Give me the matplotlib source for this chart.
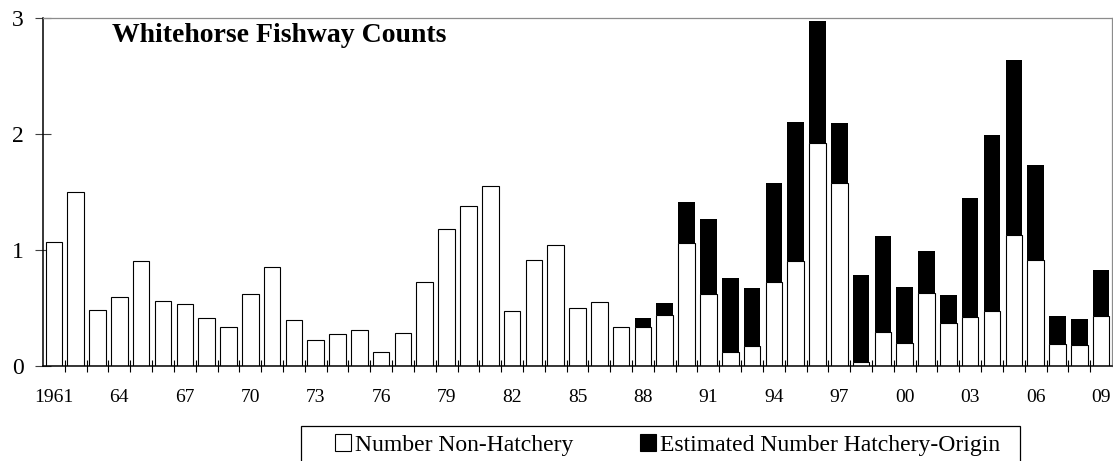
import numpy as np
import matplotlib
matplotlib.use("Agg")
import matplotlib.pyplot as plt
from matplotlib.patches import Patch, Rectangle

plt.rcParams['font.family'] = ['Liberation Serif', 'DejaVu Serif']

# Fishway counts by year (thousands)
years = list(range(1961, 2010))
non_hatchery = [
    1.07, 1.50, 0.48, 0.59, 0.90, 0.56, 0.53, 0.41, 0.33, 0.62,
    0.85, 0.39, 0.22, 0.27, 0.31, 0.12, 0.28, 0.72, 1.18, 1.38,
    1.55, 0.47, 0.91, 1.04, 0.50, 0.55, 0.33, 0.33, 0.44, 1.06,
    0.62, 0.12, 0.17, 0.72, 0.90, 1.92, 1.58, 0.03, 0.29, 0.20,
    0.63, 0.37, 0.42, 0.47, 1.13, 0.91, 0.19, 0.18, 0.43,
]
hatchery_origin = [
    0, 0, 0, 0, 0, 0, 0, 0, 0, 0,
    0, 0, 0, 0, 0, 0, 0, 0, 0, 0,
    0, 0, 0, 0, 0, 0, 0, 0.08, 0.10, 0.35,
    0.65, 0.64, 0.50, 0.86, 1.20, 1.05, 0.51, 0.75, 0.83, 0.48,
    0.36, 0.24, 1.03, 1.52, 1.51, 0.82, 0.24, 0.22, 0.40,
]
tick_labels = ['1961'] + [f"{y % 100:02d}" for y in years[3::3]]
legend_labels = ['Number Non-Hatchery', 'Estimated Number Hatchery-Origin']

W, H = 1113, 461
fig = plt.figure(figsize=(W / 100, H / 100), dpi=100)
left, right, top, bottom = 43, 1112, 18, 365.7
ax = fig.add_axes([left / W, 1 - bottom / H, (right - left) / W, (bottom - top) / H])

x = np.arange(len(years))
wild = np.array(non_hatchery)
hatch = np.array(hatchery_origin)
ax.bar(x, wild, width=0.76, color='white', edgecolor='black', linewidth=0.8, zorder=2)
ax.bar(x, hatch, bottom=wild, width=0.76, color='black', linewidth=0, zorder=2)

ax.set_xlim(-0.5, len(years) - 0.5)
ax.set_ylim(0, 3)

# labels every third year, tick marks at the category boundaries
ax.set_xticks(x[::3])
ax.set_xticklabels(tick_labels, fontsize=14)
ax.set_xticks(np.arange(0.5, len(years) - 1, 1.0), minor=True)
ax.tick_params(axis='x', which='major', length=0, pad=16.5)
ax.tick_params(axis='x', which='minor', direction='inout', length=8.6, width=0.8, color='black')

ax.set_yticks([0, 1, 2, 3])
ax.set_yticklabels(['0', '1', '2', '3'], fontsize=17)
ax.tick_params(axis='y', direction='inout', length=12.2, width=0.8, color='#404040', pad=8)

for side in ('top', 'right'):
    ax.spines[side].set_color('#8c8c8c')
    ax.spines[side].set_linewidth(0.9)
for side in ('left', 'bottom'):
    ax.spines[side].set_color('black')
    ax.spines[side].set_linewidth(1.1)

fig.text(112 / W, 1 - 42 / H, 'Whitehorse Fishway Counts', fontsize=20,
         fontweight='bold', ha='left', va='baseline')

handles = [Patch(facecolor='white', edgecolor='black', linewidth=0.8),
           Patch(facecolor='black', edgecolor='black', linewidth=0.8)]
fig.legend(handles, legend_labels, loc='center left', ncol=2,
           bbox_to_anchor=(335 / W, 1 - 445 / H), frameon=False, fontsize=17,
           borderpad=0, borderaxespad=0, handlelength=0.68, handleheight=0.68,
           handletextpad=0.17, columnspacing=2.8)
fig.add_artist(Rectangle((301 / W, -0.05), (1020 - 301) / W, (1 - 426 / H) + 0.05,
                         transform=fig.transFigure, fill=False,
                         edgecolor='black', linewidth=0.9, clip_on=False))

fig.savefig('out.png', dpi=100)
